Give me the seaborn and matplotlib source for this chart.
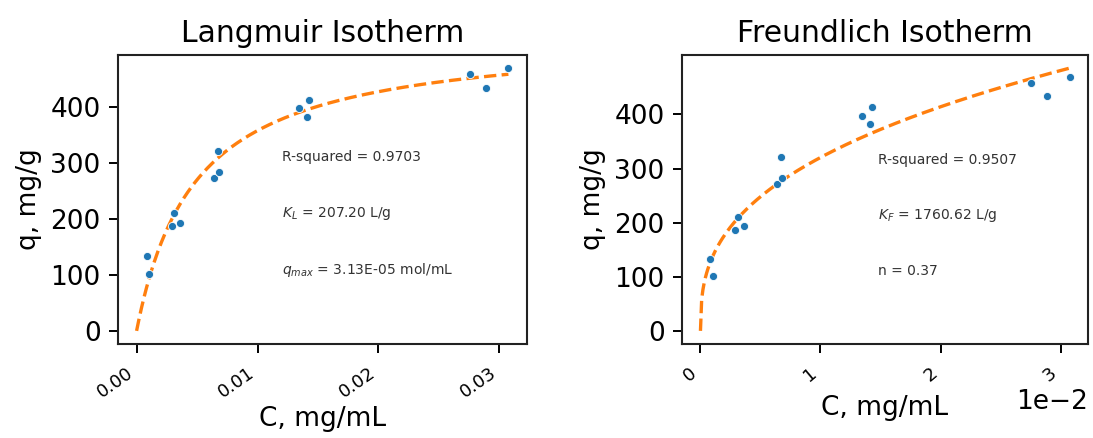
import numpy as np
import pandas as pd
import matplotlib
matplotlib.use("Agg")
import matplotlib.pyplot as plt
import seaborn as sns

C_mg_mL = [0.00083, 0.00103, 0.0029, 0.0031, 0.0036, 0.0064, 0.0068, 0.0067,
           0.01347, 0.01428, 0.01413, 0.02755, 0.02886, 0.03075]
q_mg_g = [133, 101, 187, 211, 193, 272, 283, 321,
          397, 413, 382, 458, 434, 469]

# Fit parameters shown on the chart
langmuir_r2 = 0.9703
langmuir_K = 207.20
langmuir_qmax_mg_g = 530.0       # qmax used for the drawn curve (mg/g)
langmuir_qmax_label = "3.13E-05"
freundlich_r2 = 0.9507
freundlich_K = 1760.62
freundlich_n = 0.37

titles = ["Langmuir Isotherm", "Freundlich Isotherm"]

df = pd.DataFrame({"C": C_mg_mL, "q": q_mg_g})
c_fit = np.linspace(0, max(C_mg_mL), 300)
fit_lang = pd.DataFrame({"C": c_fit,
                         "q": langmuir_qmax_mg_g * langmuir_K * c_fit / (1 + langmuir_K * c_fit)})
fit_freu = pd.DataFrame({"C": c_fit, "q": freundlich_K * c_fit ** freundlich_n})

W, H = 1093, 438
fig = plt.figure(figsize=(W / 100, H / 100), dpi=100)
ax1 = fig.add_axes([118 / W, 1 - 344 / H, 409 / W, 289 / H])
ax2 = fig.add_axes([682 / W, 1 - 344 / H, 406 / W, 289 / H])

blue = "#1f77b4"
orange = "#ff7f0e"
FS = 19
TFS = 21.5

for ax, fit, title in [(ax1, fit_lang, titles[0]), (ax2, fit_freu, titles[1])]:
    sns.lineplot(data=fit, x="C", y="q", ax=ax, color=orange, linestyle="--", linewidth=2.4)
    sns.scatterplot(data=df, x="C", y="q", ax=ax, color=blue, s=34, edgecolor="white",
                    linewidth=0.6, zorder=3)
    ax.set_title(title, fontsize=TFS, pad=9)
    ax.set_ylabel("q, mg/g", fontsize=FS, labelpad=6)
    ax.tick_params(axis="both", length=6.5, width=1.4)
    ax.tick_params(axis="y", labelsize=FS, pad=6)
    ax.tick_params(axis="x", labelsize=13, pad=8)
    ax.set_yticks([0, 100, 200, 300, 400])
    for sp in ax.spines.values():
        sp.set_linewidth(1.5)
        sp.set_color("#222222")

ax1.set_xlabel("C, mg/mL", fontsize=FS, labelpad=3)
ax2.set_xlabel("C, mg/mL", fontsize=FS, labelpad=7)

ax1.set_xticks([0.00, 0.01, 0.02, 0.03])
ax1.set_xticklabels(["0.00", "0.01", "0.02", "0.03"], rotation=35, ha="right")

ax2.set_xticks([0.00, 0.01, 0.02, 0.03])
ax2.ticklabel_format(style="sci", axis="x", scilimits=(0, 0))
plt.setp(ax2.get_xticklabels(), rotation=40, ha="right")
ax2.xaxis.get_offset_text().set_fontsize(FS)

tfs = 10
tc = "#333333"
ax1.text(0.40, 0.647, f"R-squared = {langmuir_r2:.4f}", transform=ax1.transAxes, fontsize=tfs, va="center", color=tc)
ax1.text(0.40, 0.453, f"$K_L$ = {langmuir_K:.2f} L/g", transform=ax1.transAxes, fontsize=tfs, va="center", color=tc)
ax1.text(0.40, 0.256, f"$q_{{max}}$ = {langmuir_qmax_label} mol/mL", transform=ax1.transAxes, fontsize=tfs, va="center", color=tc)

ax2.text(0.483, 0.637, f"R-squared = {freundlich_r2:.4f}", transform=ax2.transAxes, fontsize=tfs, va="center", color=tc)
ax2.text(0.483, 0.443, f"$K_F$ = {freundlich_K:.2f} L/g", transform=ax2.transAxes, fontsize=tfs, va="center", color=tc)
ax2.text(0.483, 0.253, f"n = {freundlich_n:.2f}", transform=ax2.transAxes, fontsize=tfs, va="center", color=tc)

fig.savefig("out.png", dpi=100)
